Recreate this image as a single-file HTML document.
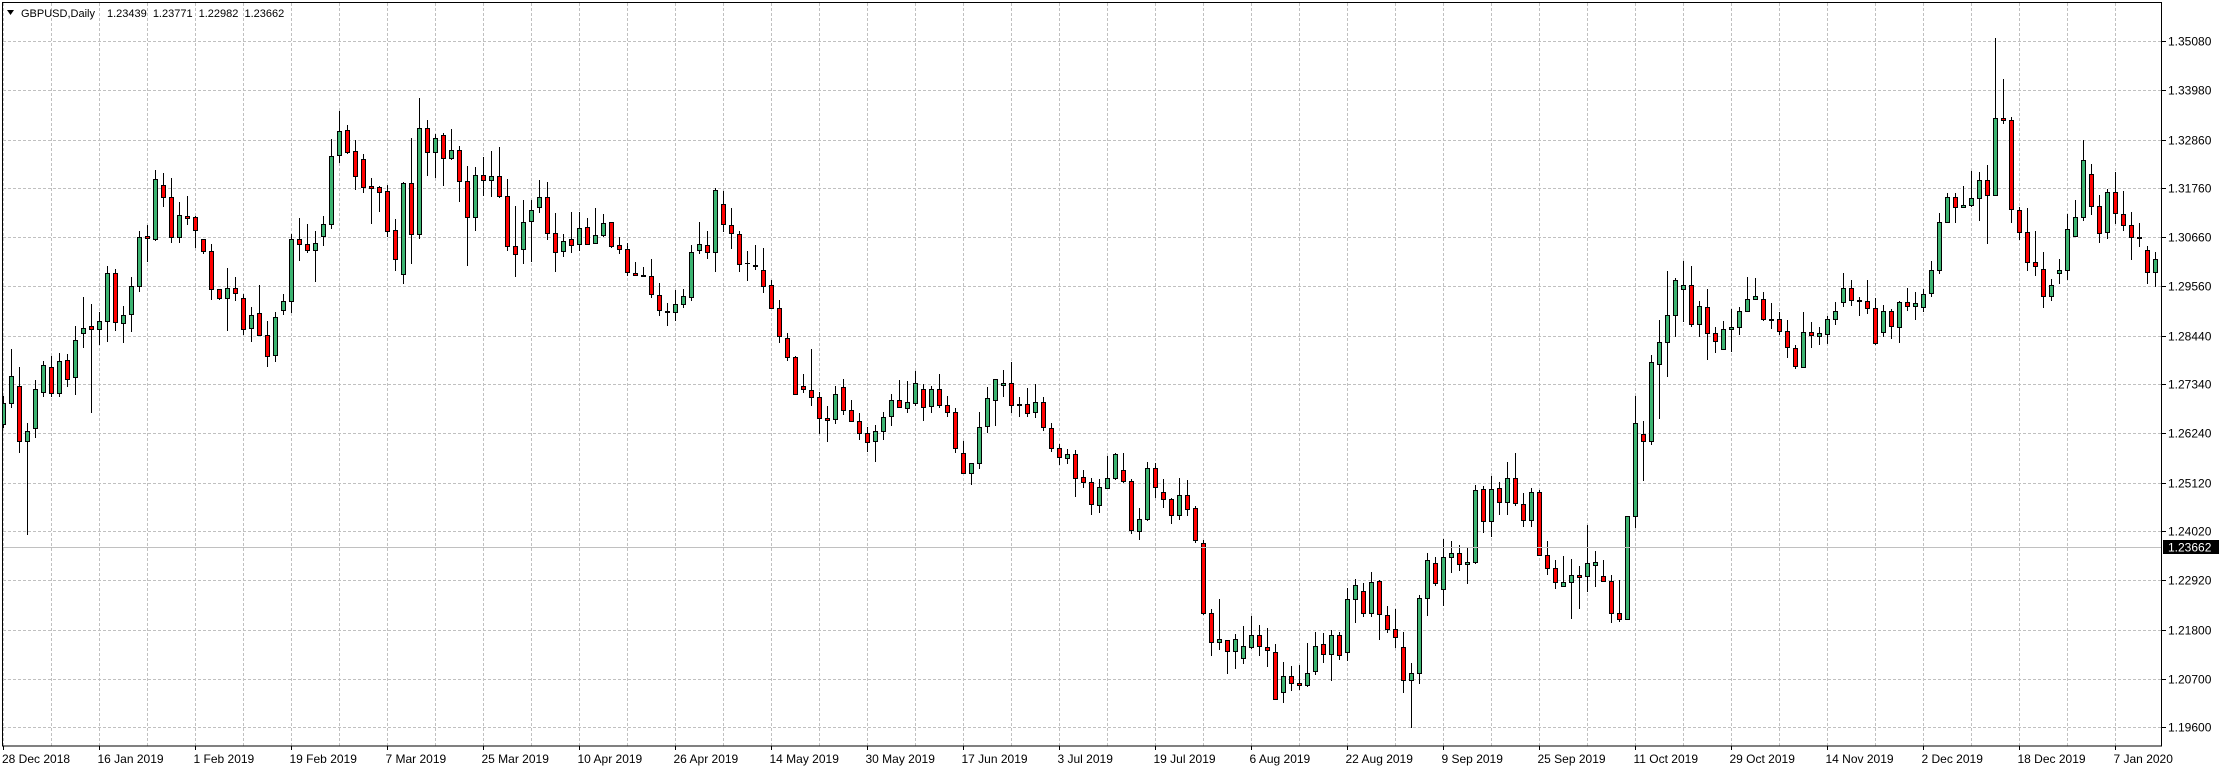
<!DOCTYPE html>
<html><head><meta charset="utf-8"><title>GBPUSD Daily</title>
<style>html,body{margin:0;padding:0;background:#fff;overflow:hidden}svg{display:block}text{font-family:"Liberation Sans",Arial,sans-serif}</style>
</head><body>
<svg id="chart" width="2225" height="770" viewBox="0 0 2225 770" xmlns="http://www.w3.org/2000/svg">
<defs><clipPath id="plotclip"><rect x="2" y="2" width="2160" height="744"/></clipPath></defs>
<g id="grid"></g>
<g id="candles" clip-path="url(#plotclip)"></g>
<line x1="2" y1="547.5" x2="2162" y2="547.5" stroke="#c0c0c0" stroke-width="1"/>
<rect x="2.5" y="2.5" width="2159" height="743.5" fill="none" stroke="#000" stroke-width="1"/>
<g id="yaxis"></g>
<g id="xaxis"></g>
<g>
<polygon points="7,10 14,10 10.5,15" fill="#000"/>
<text x="21" y="17" font-size="11" fill="#000">GBPUSD,Daily</text>
<text x="107" y="17" font-size="11" fill="#000" word-spacing="3">1.23439 1.23771 1.22982 1.23662</text>
</g>
<rect x="2163" y="540" width="56" height="14" fill="#000"/>
<text x="2168" y="551.5" font-size="12" fill="#fff">1.23662</text>
</svg>
<script>
const openP=[1.2644,1.2692,1.2730,1.2606,1.2635,1.2717,1.2773,1.2714,1.2789,1.2750,
1.2850,1.2866,1.2859,1.2877,1.2985,1.2873,1.2892,1.2956,1.3069,1.3062,
1.3184,1.3157,1.3066,1.3114,1.3112,1.3062,1.3035,1.2949,1.2929,1.2951,
1.2929,1.2861,1.2895,1.2845,1.2800,1.2902,1.2922,1.3062,1.3051,1.3037,
1.3069,1.3096,1.3252,1.3308,1.3261,1.3242,1.3181,1.3179,1.3170,1.3082,
1.2983,1.3188,1.3073,1.3312,1.3258,1.3296,1.3245,1.3263,1.3193,1.3112,
1.3206,1.3195,1.3204,1.3159,1.3046,1.3039,1.3103,1.3134,1.3157,1.3076,
1.3035,1.3062,1.3051,1.3089,1.3053,1.3071,1.3100,1.3048,1.3039,1.2985,
1.2980,1.2978,1.2936,1.2900,1.2897,1.2915,1.2931,1.3037,1.3048,1.3033,
1.3141,1.3094,1.3073,1.3008,1.3003,1.2992,1.2958,1.2907,1.2839,1.2796,
1.2730,1.2721,1.2705,1.2658,1.2656,1.2728,1.2676,1.2651,1.2624,1.2606,
1.2629,1.2662,1.2699,1.2681,1.2692,1.2723,1.2685,1.2723,1.2687,1.2671,
1.2579,1.2534,1.2556,1.2640,1.2699,1.2733,1.2737,1.2689,1.2689,1.2671,
1.2694,1.2635,1.2590,1.2568,1.2577,1.2525,1.2514,1.2462,1.2500,1.2522,
1.2540,1.2516,1.2403,1.2430,1.2545,1.2491,1.2475,1.2439,1.2484,1.2455,
1.2376,1.2218,1.2153,1.2157,1.2133,1.2117,1.2142,1.2169,1.2142,1.2130,
1.2040,1.2076,1.2060,1.2056,1.2088,1.2148,1.2126,1.2169,1.2130,1.2250,
1.2268,1.2218,1.2290,1.2214,1.2182,1.2142,1.2067,1.2083,1.2252,1.2331,
1.2272,1.2344,1.2353,1.2328,1.2333,1.2498,1.2425,1.2500,1.2468,1.2522,
1.2464,1.2428,1.2491,1.2349,1.2320,1.2279,1.2288,1.2304,1.2301,1.2326,
1.2301,1.2290,1.2218,1.2205,1.2436,1.2622,1.2606,1.2780,1.2829,1.2890,
1.2949,1.2958,1.2870,1.2909,1.2850,1.2814,1.2859,1.2863,1.2900,1.2926,
1.2926,1.2881,1.2881,1.2854,1.2816,1.2773,1.2852,1.2843,1.2848,1.2881,
1.2920,1.2951,1.2924,1.2922,1.2906,1.2852,1.2900,1.2863,1.2920,1.2911,
1.2909,1.2940,1.2992,1.3101,1.3157,1.3134,1.3139,1.3154,1.3195,1.3161,
1.3335,1.3330,1.3127,1.3078,1.3010,1.2994,1.2933,1.2985,1.2992,1.3069,
1.3112,1.3208,1.3136,1.3078,1.3168,1.3118,1.3094,1.3066,1.3037,1.2988];
const highP=[1.2708,1.2814,1.2773,1.2647,1.2744,1.2787,1.2798,1.2805,1.2802,1.2866,
1.2931,1.2915,1.2897,1.3001,1.2994,1.2911,1.2976,1.3080,1.3094,1.3218,
1.3211,1.3199,1.3145,1.3159,1.3114,1.3062,1.3051,1.2949,1.2996,1.2976,
1.2938,1.2908,1.2958,1.2877,1.2897,1.2938,1.3073,1.3109,1.3096,1.3080,
1.3114,1.3287,1.3351,1.3319,1.3285,1.3254,1.3199,1.3181,1.3184,1.3107,
1.3190,1.3290,1.3380,1.3330,1.3299,1.3301,1.3310,1.3272,1.3227,1.3224,
1.3247,1.3260,1.3269,1.3197,1.3136,1.3150,1.3150,1.3195,1.3190,1.3120,
1.3073,1.3123,1.3123,1.3109,1.3132,1.3118,1.3100,1.3066,1.3053,1.3010,
1.2998,1.3017,1.2963,1.2918,1.2947,1.2949,1.3049,1.3101,1.3080,1.3176,
1.3170,1.3132,1.3080,1.3035,1.3049,1.3042,1.2969,1.2924,1.2850,1.2798,
1.2757,1.2814,1.2717,1.2685,1.2730,1.2746,1.2699,1.2669,1.2637,1.2642,
1.2671,1.2712,1.2744,1.2741,1.2764,1.2735,1.2730,1.2757,1.2708,1.2680,
1.2606,1.2556,1.2671,1.2728,1.2746,1.2766,1.2784,1.2705,1.2726,1.2735,
1.2705,1.2647,1.2599,1.2588,1.2586,1.2540,1.2522,1.2520,1.2572,1.2579,
1.2579,1.2520,1.2455,1.2559,1.2556,1.2520,1.2477,1.2522,1.2518,1.2459,
1.2383,1.2227,1.2250,1.2157,1.2171,1.2189,1.2211,1.2191,1.2184,1.2148,
1.2108,1.2099,1.2101,1.2151,1.2175,1.2173,1.2180,1.2175,1.2274,1.2295,
1.2286,1.2310,1.2292,1.2234,1.2227,1.2175,1.2106,1.2259,1.2353,1.2344,
1.2385,1.2380,1.2371,1.2367,1.2507,1.2504,1.2527,1.2513,1.2559,1.2579,
1.2489,1.2500,1.2495,1.2380,1.2338,1.2347,1.2340,1.2324,1.2416,1.2358,
1.2338,1.2304,1.2292,1.2436,1.2708,1.2651,1.2800,1.2879,1.2990,1.2974,
1.3012,1.3001,1.2922,1.2949,1.2863,1.2877,1.2904,1.2909,1.2976,1.2974,
1.2942,1.2918,1.2897,1.2879,1.2823,1.2897,1.2875,1.2863,1.2888,1.2920,
1.2985,1.2969,1.2931,1.2969,1.2929,1.2913,1.2904,1.2922,1.2951,1.2942,
1.2949,1.3012,1.3120,1.3165,1.3165,1.3181,1.3215,1.3213,1.3229,1.3515,
1.3423,1.3337,1.3134,1.3132,1.3080,1.3033,1.2972,1.3017,1.3118,1.3150,
1.3285,1.3231,1.3161,1.3175,1.3213,1.3170,1.3123,1.3098,1.3046,1.3033];
const lowP=[1.2635,1.2681,1.2579,1.2394,1.2613,1.2705,1.2705,1.2705,1.2728,1.2710,
1.2816,1.2669,1.2823,1.2829,1.2854,1.2827,1.2852,1.2942,1.3010,1.3057,
1.3134,1.3053,1.3053,1.3094,1.3042,1.3028,1.2924,1.2924,1.2854,1.2922,
1.2845,1.2829,1.2845,1.2773,1.2784,1.2890,1.2895,1.3012,1.3030,1.2965,
1.3046,1.3085,1.3233,1.3254,1.3172,1.3165,1.3096,1.3123,1.3066,1.2990,
1.2960,1.3005,1.3062,1.3204,1.3199,1.3181,1.3240,1.3145,1.3002,1.3080,
1.3159,1.3157,1.3154,1.3035,1.2976,1.3005,1.3010,1.3120,1.3060,1.2988,
1.3021,1.3030,1.3035,1.3051,1.3051,1.3066,1.3042,1.3028,1.2978,1.2980,
1.2976,1.2929,1.2888,1.2866,1.2877,1.2907,1.2922,1.3028,1.3017,1.2988,
1.3078,1.3039,1.2988,1.2967,1.2992,1.2940,1.2907,1.2827,1.2787,1.2713,
1.2714,1.2685,1.2622,1.2604,1.2644,1.2665,1.2651,1.2608,1.2581,1.2559,
1.2608,1.2640,1.2681,1.2669,1.2685,1.2651,1.2669,1.2681,1.2660,1.2579,
1.2532,1.2507,1.2543,1.2624,1.2640,1.2705,1.2669,1.2660,1.2660,1.2658,
1.2629,1.2581,1.2552,1.2554,1.2480,1.2500,1.2439,1.2444,1.2498,1.2518,
1.2511,1.2396,1.2383,1.2426,1.2477,1.2455,1.2419,1.2428,1.2437,1.2376,
1.2214,1.2121,1.2135,1.2081,1.2092,1.2103,1.2137,1.2121,1.2096,1.2024,
1.2015,1.2042,1.2045,1.2051,1.2079,1.2106,1.2065,1.2112,1.2110,1.2196,
1.2209,1.2209,1.2157,1.2173,1.2139,1.2038,1.1958,1.2058,1.2211,1.2279,
1.2234,1.2308,1.2313,1.2283,1.2328,1.2399,1.2390,1.2439,1.2439,1.2459,
1.2412,1.2412,1.2347,1.2304,1.2272,1.2277,1.2204,1.2227,1.2265,1.2277,
1.2288,1.2196,1.2198,1.2202,1.2410,1.2515,1.2597,1.2655,1.2750,1.2841,
1.2875,1.2863,1.2841,1.2789,1.2805,1.2812,1.2807,1.2845,1.2897,1.2926,
1.2877,1.2859,1.2845,1.2793,1.2768,1.2773,1.2816,1.2823,1.2825,1.2868,
1.2909,1.2911,1.2888,1.2893,1.2823,1.2841,1.2836,1.2827,1.2900,1.2880,
1.2897,1.2931,1.2983,1.3101,1.3098,1.3132,1.3134,1.3103,1.3051,1.3161,
1.3321,1.3098,1.3060,1.2990,1.2978,1.2906,1.2922,1.2960,1.2969,1.3066,
1.3103,1.3116,1.3053,1.3062,1.3096,1.3080,1.3014,1.3044,1.2960,1.2954];
const closeP=[1.2692,1.2753,1.2606,1.2629,1.2723,1.2778,1.2714,1.2787,1.2746,1.2834,
1.2861,1.2859,1.2877,1.2985,1.2875,1.2890,1.2956,1.3066,1.3064,1.3197,
1.3157,1.3066,1.3116,1.3109,1.3082,1.3035,1.2949,1.2929,1.2951,1.2940,
1.2859,1.2890,1.2845,1.2798,1.2886,1.2922,1.3062,1.3051,1.3037,1.3053,
1.3096,1.3249,1.3306,1.3258,1.3204,1.3179,1.3177,1.3168,1.3080,1.3017,
1.3188,1.3073,1.3312,1.3258,1.3290,1.3245,1.3263,1.3193,1.3112,1.3206,
1.3195,1.3204,1.3159,1.3046,1.3028,1.3101,1.3127,1.3157,1.3076,1.3033,
1.3057,1.3048,1.3087,1.3051,1.3071,1.3098,1.3046,1.3039,1.2987,1.2980,
1.2978,1.2938,1.2902,1.2897,1.2915,1.2933,1.3033,1.3051,1.3033,1.3172,
1.3096,1.3076,1.3005,1.3007,1.3002,1.2956,1.2907,1.2842,1.2796,1.2713,
1.2723,1.2705,1.2658,1.2654,1.2713,1.2676,1.2651,1.2624,1.2604,1.2629,
1.2660,1.2699,1.2683,1.2694,1.2737,1.2683,1.2723,1.2687,1.2671,1.2590,
1.2534,1.2556,1.2637,1.2703,1.2746,1.2737,1.2687,1.2688,1.2669,1.2694,
1.2637,1.2590,1.2570,1.2577,1.2522,1.2514,1.2464,1.2502,1.2522,1.2577,
1.2516,1.2406,1.2430,1.2545,1.2502,1.2475,1.2439,1.2484,1.2453,1.2383,
1.2218,1.2153,1.2160,1.2133,1.2160,1.2144,1.2169,1.2144,1.2135,1.2024,
1.2076,1.2060,1.2056,1.2083,1.2144,1.2126,1.2169,1.2124,1.2250,1.2281,
1.2218,1.2288,1.2216,1.2182,1.2164,1.2067,1.2083,1.2252,1.2338,1.2286,
1.2344,1.2353,1.2328,1.2333,1.2495,1.2425,1.2498,1.2468,1.2522,1.2466,
1.2428,1.2491,1.2349,1.2320,1.2288,1.2288,1.2304,1.2299,1.2331,1.2333,
1.2290,1.2218,1.2205,1.2436,1.2647,1.2606,1.2784,1.2829,1.2890,1.2969,
1.2958,1.2870,1.2911,1.2850,1.2832,1.2859,1.2863,1.2900,1.2926,1.2933,
1.2881,1.2880,1.2854,1.2818,1.2775,1.2852,1.2845,1.2850,1.2881,1.2900,
1.2951,1.2924,1.2922,1.2906,1.2827,1.2900,1.2866,1.2920,1.2911,1.2918,
1.2938,1.2992,1.3101,1.3157,1.3134,1.3139,1.3154,1.3195,1.3161,1.3335,
1.3330,1.3130,1.3078,1.3010,1.3001,1.2933,1.2958,1.2992,1.3085,1.3112,
1.3240,1.3136,1.3076,1.3168,1.3120,1.3094,1.3066,1.3064,1.2988,1.3017];
const yTickValues=[1.35080,1.33980,1.32860,1.31760,1.30660,1.29560,1.28440,1.27340,1.26240,1.25120,1.24020,1.22920,1.21800,1.20700,1.19600];
const yTickLabels=["1.35080","1.33980","1.32860","1.31760","1.30660","1.29560","1.28440","1.27340","1.26240","1.25120","1.24020","1.22920","1.21800","1.20700","1.19600"];
const xTickBars=[0,12,24,36,48,60,72,84,96,108,120,132,144,156,168,180,192,204,216,228,240,252,264];
const xTickLabels=["28 Dec 2018","16 Jan 2019","1 Feb 2019","19 Feb 2019","7 Mar 2019","25 Mar 2019","10 Apr 2019","26 Apr 2019","14 May 2019","30 May 2019","17 Jun 2019","3 Jul 2019","19 Jul 2019","6 Aug 2019","22 Aug 2019","9 Sep 2019","25 Sep 2019","11 Oct 2019","29 Oct 2019","14 Nov 2019","2 Dec 2019","18 Dec 2019","7 Jan 2020"];

const NS="http://www.w3.org/2000/svg";
const P_TOP=1.3508, Y_TOP=41.3, PX_PER_UNIT=4431.5;
function yScale(p){return Y_TOP+(P_TOP-p)*PX_PER_UNIT;}
function xScale(i){return 3.5+8*i;}
function mk(tag,attrs,parent){const e=document.createElementNS(NS,tag);for(const k in attrs)e.setAttribute(k,attrs[k]);parent.appendChild(e);return e;}

const grid=document.getElementById('grid');
for(let x=3.5;x<2161;x+=48){
  const l=mk('line',{x1:x,y1:3,x2:x,y2:746,stroke:'#c0c0c0','stroke-width':1,'stroke-dasharray':'3,2'},grid);
  
  
}
const yaxis=document.getElementById('yaxis');
yTickValues.forEach((v,k)=>{
  const y=Math.round(yScale(v))+0.5;
  const g=mk('line',{x1:3,y1:y,x2:2161,y2:y,stroke:'#c0c0c0','stroke-width':1,'stroke-dasharray':'3,2'},grid);
  
  
  const t=mk('line',{x1:2162,y1:y,x2:2166,y2:y,stroke:'#000','stroke-width':1},yaxis);
  
  
  const tx=mk('text',{x:2168,y:y+4,'font-size':12,fill:'#000'},yaxis);
  tx.textContent=yTickLabels[k];
  
  
});
const xaxis=document.getElementById('xaxis');
xTickBars.forEach((b,k)=>{
  const x=xScale(b);
  const t=mk('line',{x1:x,y1:746,x2:x,y2:750,stroke:'#000','stroke-width':1},xaxis);
  
  
  const tx=mk('text',{x:Math.max(2,x-2),y:763,'font-size':12,fill:'#000'},xaxis);
  tx.textContent=xTickLabels[k];
  
  
});
const cg=document.getElementById('candles');
for(let i=0;i<closeP.length;i++){
  const cx=xScale(i);
  const o=openP[i],c=closeP[i],h=highP[i],lo=lowP[i];
  const up=c>=o;
  const w=mk('line',{x1:cx,y1:Math.round(yScale(h)),x2:cx,y2:Math.round(yScale(lo)),stroke:'#000','stroke-width':1},cg);
  
  
  const yt=Math.round(yScale(Math.max(o,c)))+0.5;
  const yb=Math.round(yScale(Math.min(o,c)))+0.5;
  const b=mk('rect',{x:cx-2,y:yt,width:4,height:Math.max(yb-yt,0.01),fill:up?'#3cb371':'#ff0000',stroke:'#000','stroke-width':1},cg);
  
  
}
</script>
</body></html>
